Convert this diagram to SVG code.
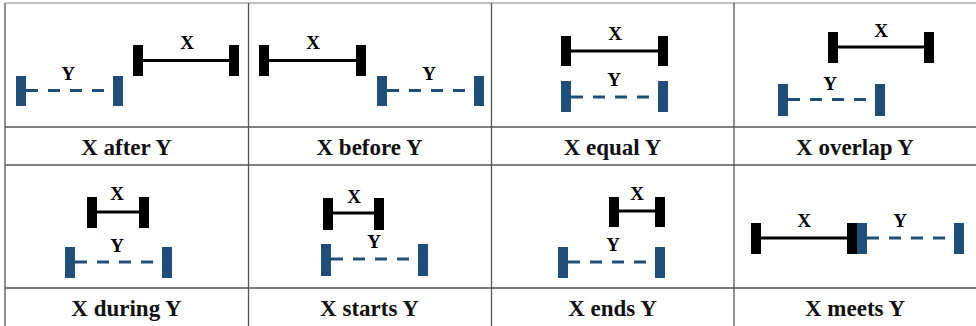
<svg xmlns="http://www.w3.org/2000/svg" width="976" height="326" viewBox="0 0 976 326">
<style>
.bg{fill:#ffffff}
.grid{stroke:#555555;stroke-width:1.3;fill:none}
.top{stroke:#aaaaaa;stroke-width:1.3}
.bk{fill:#000000}
.bl{fill:#1f4e79}
.xl{stroke:#000000;stroke-width:3;fill:none}
.yl{stroke:#1f4e79;stroke-width:3;fill:none;stroke-dasharray:12 10}
.t{font-family:"Liberation Serif","Times New Roman",serif;font-weight:bold;font-size:19px;fill:#000;text-anchor:middle}
.lab{font-family:"Liberation Serif","Times New Roman",serif;font-weight:bold;font-size:23px;fill:#111;text-anchor:middle}
</style>
<rect class="bg" x="0" y="0" width="976" height="326"/>
<g id="grid">
<line class="top" x1="5" y1="3" x2="976" y2="3"/>
<line class="grid" x1="5" y1="127" x2="976" y2="127"/>
<line class="grid" x1="5" y1="165" x2="976" y2="165"/>
<line class="grid" x1="5" y1="288" x2="976" y2="288"/>
<line class="grid" x1="5" y1="3" x2="5" y2="326"/>
<line class="grid" x1="248.5" y1="3" x2="248.5" y2="326"/>
<line class="grid" x1="491.5" y1="3" x2="491.5" y2="326"/>
<line class="grid" x1="734" y1="3" x2="734" y2="326"/>
</g>
<g id="connectors"></g>
<g id="after">
<rect class="bl" x="16" y="76" width="10" height="30"/><rect class="bl" x="113" y="76" width="10" height="30"/>
<line class="yl" x1="26" y1="90.5" x2="113" y2="90.5"/>
<text class="t" x="68" y="80">Y</text>
<rect class="bk" x="133" y="45" width="10" height="31"/><rect class="bk" x="229" y="45" width="10" height="31"/>
<line class="xl" x1="143" y1="60.5" x2="229" y2="60.5"/>
<text class="t" x="187" y="49">X</text>
<text class="lab" x="126.5" y="155">X after Y</text>
</g>
<g id="before">
<rect class="bk" x="259" y="45" width="10" height="31"/><rect class="bk" x="356" y="45" width="10" height="31"/>
<line class="xl" x1="269" y1="60.5" x2="356" y2="60.5"/>
<text class="t" x="313" y="49">X</text>
<rect class="bl" x="377" y="76" width="10" height="30"/><rect class="bl" x="474" y="76" width="10" height="30"/>
<line class="yl" x1="387" y1="90.5" x2="474" y2="90.5"/>
<text class="t" x="429" y="80">Y</text>
<text class="lab" x="369.5" y="155">X before Y</text>
</g>
<g id="equal">
<rect class="bk" x="561" y="36" width="10" height="30"/><rect class="bk" x="658" y="36" width="10" height="30"/>
<line class="xl" x1="571" y1="51" x2="658" y2="51"/>
<text class="t" x="615" y="40">X</text>
<rect class="bl" x="561" y="81" width="10" height="31"/><rect class="bl" x="658" y="81" width="10" height="31"/>
<line class="yl" x1="571" y1="97" x2="658" y2="97"/>
<text class="t" x="614" y="86">Y</text>
<text class="lab" x="612.5" y="155">X equal Y</text>
</g>
<g id="overlap">
<rect class="bk" x="828" y="32" width="10" height="31"/><rect class="bk" x="924" y="32" width="10" height="31"/>
<line class="xl" x1="838" y1="47" x2="924" y2="47"/>
<text class="t" x="881" y="37">X</text>
<rect class="bl" x="778" y="84" width="10" height="32"/><rect class="bl" x="875" y="84" width="10" height="32"/>
<line class="yl" x1="788" y1="99.5" x2="875" y2="99.5"/>
<text class="t" x="830" y="90">Y</text>
<text class="lab" x="855" y="155">X overlap Y</text>
</g>
<g id="during">
<rect class="bk" x="87" y="197" width="10" height="31"/><rect class="bk" x="139" y="197" width="10" height="31"/>
<line class="xl" x1="97" y1="212" x2="139" y2="212"/>
<text class="t" x="117" y="200">X</text>
<rect class="bl" x="65" y="247" width="10" height="31"/><rect class="bl" x="162" y="247" width="10" height="31"/>
<line class="yl" x1="75" y1="262" x2="162" y2="262"/>
<text class="t" x="117" y="252">Y</text>
<text class="lab" x="126.5" y="316">X during Y</text>
</g>
<g id="starts">
<rect class="bk" x="323" y="198" width="10" height="32"/><rect class="bk" x="374" y="198" width="10" height="32"/>
<line class="xl" x1="333" y1="213" x2="374" y2="213"/>
<text class="t" x="354" y="203">X</text>
<rect class="bl" x="321" y="244" width="10" height="32"/><rect class="bl" x="418" y="244" width="10" height="32"/>
<line class="yl" x1="331" y1="259" x2="418" y2="259"/>
<text class="t" x="374" y="248">Y</text>
<text class="lab" x="369.5" y="316">X starts Y</text>
</g>
<g id="ends">
<rect class="bk" x="609" y="197" width="10" height="30"/><rect class="bk" x="655" y="197" width="10" height="30"/>
<line class="xl" x1="619" y1="211" x2="655" y2="211"/>
<text class="t" x="637" y="200">X</text>
<rect class="bl" x="558" y="247" width="10" height="31"/><rect class="bl" x="655" y="247" width="10" height="31"/>
<line class="yl" x1="568" y1="262" x2="655" y2="262"/>
<text class="t" x="613" y="251">Y</text>
<text class="lab" x="612.5" y="316">X ends Y</text>
</g>
<g id="meets">
<rect class="bk" x="751" y="223" width="10" height="31"/><rect class="bk" x="847" y="223" width="10" height="31"/>
<line class="xl" x1="761" y1="238" x2="847" y2="238"/>
<text class="t" x="804" y="227">X</text>
<rect class="bl" x="857" y="223" width="10" height="31"/><rect class="bl" x="954" y="223" width="10" height="31"/>
<line class="yl" x1="867" y1="238" x2="954" y2="238"/>
<text class="t" x="900" y="227">Y</text>
<text class="lab" x="855" y="316">X meets Y</text>
</g>
</svg>
